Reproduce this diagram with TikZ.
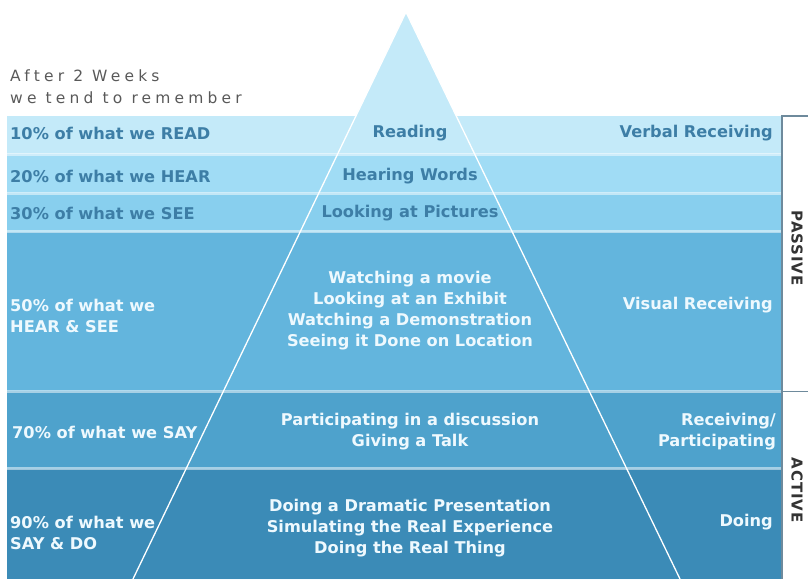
\documentclass[tikz,border=0pt]{standalone}
\usepackage{fontspec}
\setmainfont{DejaVu Sans}
\newfontfamily\spacedfont[LetterSpace=27]{DejaVu Sans}
\newfontfamily\sidefont[LetterSpace=6]{DejaVu Sans}
\usetikzlibrary{positioning}
\definecolor{bandA}{HTML}{C4EAF9}
\definecolor{bandB}{HTML}{A0DCF5}
\definecolor{bandC}{HTML}{88CFEE}
\definecolor{bandD}{HTML}{63B5DD}
\definecolor{bandE}{HTML}{4EA2CC}
\definecolor{bandF}{HTML}{3B8BB7}
\definecolor{darktext}{HTML}{3D7EA6}
\definecolor{lighttext}{HTML}{EEF9FE}
\definecolor{bracketcol}{HTML}{6E8A9C}

\begin{document}
\begin{tikzpicture}[
        x=1pt, y=-1pt,
        sep/.style={white, opacity=0.5, line width=2.5pt},
        lbl/.style={font=\fontsize{16.2}{21}\selectfont\bfseries, inner sep=0pt},
        dark/.style={lbl, text=darktext},
        light/.style={lbl, text=lighttext},
        side/.style={font=\fontsize{15}{16}\sidefont\bfseries, text=black!80, rotate=-90, inner sep=0pt}
    ]
    \useasboundingbox (0,0) rectangle (808,579);

    \coordinate (apex) at (406,12);
    \coordinate (baseL) at (133,579);
    \coordinate (baseR) at (680,579);
    \fill[bandA] (apex) -- (baseL) -- (baseR) -- cycle;

    % bands
    \fill[bandA] (7,116) rectangle (781,154);
    \fill[bandB] (7,154) rectangle (781,193);
    \fill[bandC] (7,193) rectangle (781,232);
    \fill[bandD] (7,232) rectangle (781,391);
    \fill[bandE] (7,391) rectangle (781,469);
    \fill[bandF] (7,469) rectangle (781,579);
    \foreach \y in {154.5,193.5,231.5,391.5,468.5}
        \draw[sep] (7,\y) -- (781,\y);

    \draw[white, line width=1.3pt] (baseL) -- (apex) -- (baseR);

    \node[anchor=west, inner sep=0pt, text=black!65, align=left,
          font=\fontsize{15.5}{22}\spacedfont] (title) at (10,87) {After 2 Weeks\\we tend to remember};

    % left column
    \node[dark, anchor=west] (l10) at (10,133) {10\% of what we READ};
    \node[dark, anchor=west] (l20) at (10,176) {20\% of what we HEAR};
    \node[dark, anchor=west] (l30) at (10,213) {30\% of what we SEE};
    \node[light, anchor=west, align=left] (l50) at (10,316) {50\% of what we\\HEAR \& SEE};
    \node[light, anchor=west] (l70) at (12,432) {70\% of what we SAY};
    \node[light, anchor=west, align=left] (l90) at (10,533) {90\% of what we\\SAY \& DO};

    % middle column
    \node[dark] (c1) at (410,133) {Reading};
    \node[dark] (c2) at (410,176) {Hearing Words};
    \node[dark] (c3) at (410,213) {Looking at Pictures};
    \node[light, align=center] (c4) at (410,311) {Watching a movie\\Looking at an Exhibit\\Watching a Demonstration\\Seeing it Done on Location};
    \node[light, align=center] (c5) at (410,431.5) {Participating in a discussion\\Giving a Talk};
    \node[light, align=center] (c6) at (410,528) {Doing a Dramatic Presentation\\Simulating the Real Experience\\Doing the Real Thing};

    % right column
    \node[dark, anchor=east] (r1) at (773,133) {Verbal Receiving};
    \node[light, anchor=east] (r4) at (773,305) {Visual Receiving};
    \node[light, anchor=east, align=right] (r5) at (776,431.5) {Receiving/\\Participating};
    \node[light, anchor=east] (r6) at (773,522) {Doing};

    % bracket
    \coordinate (bt) at (808,116);
    \coordinate (bm) at (808,391.5);
    \draw[bracketcol, line width=1.5pt] (bt) -- (782,116) -- (782,579);
    \draw[bracketcol, line width=1.2pt] (782,391.5) -- (bm);
    \node[side] (passive) at (797,248) {PASSIVE};
    \node[side] (active) at (797,490) {ACTIVE};
\end{tikzpicture}
\end{document}
